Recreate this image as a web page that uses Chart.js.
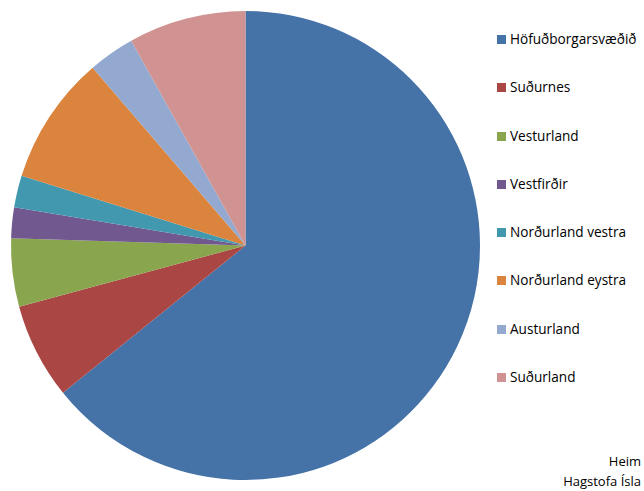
<!DOCTYPE html>
<html>
<head>
<meta charset="utf-8">
<script src="https://cdn.jsdelivr.net/npm/chart.js@4"></script>
<style>
    body { margin: 0; background: #fff; font-family: "Open Sans", sans-serif; }
    #wrap { position: relative; width: 644px; height: 491px; overflow: hidden; }
    #pieBox { position: absolute; left: 0; top: 0; width: 491px; height: 491px; }
    #legend { position: absolute; left: 497px; top: 30px; margin: 0; padding: 0; list-style: none; }
    #legend li { height: 48.3px; font-size: 13.6px; color: #000; white-space: nowrap; line-height: 17px; }
    #legend span { display: inline-block; width: 9px; height: 9px; margin-right: 4px; vertical-align: 0px; }
    #source { position: absolute; right: 3px; top: 451px; font-size: 13px; line-height: 20px; text-align: right; white-space: nowrap; }
</style>
</head>
<body>
<div id="wrap">
    <div id="pieBox"><canvas id="regionChart"></canvas></div>
    <ul id="legend"></ul>
    <div id="source">Heim<br>Hagstofa Ísla</div>
</div>
<script>
const regions = ["Höfuðborgarsvæðið", "Suðurnes", "Vesturland", "Vestfirðir",
    "Norðurland vestra", "Norðurland eystra", "Austurland", "Suðurland"];
const share = [64.2, 6.6, 4.7, 2.1, 2.2, 8.9, 3.2, 8.1];
const colors = ["#4572A7", "#AA4643", "#89A54E", "#71588F", "#4198AF", "#DB843D", "#93A9CF", "#D19392"];

const chart = new Chart(document.getElementById("regionChart"), {
    type: "pie",
    data: {
        labels: regions,
        datasets: [{
            data: share,
            backgroundColor: colors,
            borderWidth: 0
        }]
    },
    options: {
        responsive: true,
        maintainAspectRatio: false,
        animation: false,
        layout: { padding: 11 },
        plugins: {
            legend: { display: false },
            tooltip: { enabled: false }
        }
    }
});

// legend beside the pie, built from the chart's own labels
const list = document.getElementById("legend");
chart.options.plugins.legend.labels.generateLabels(chart).forEach(item => {
    const li = document.createElement("li");
    const sw = document.createElement("span");
    sw.style.background = item.fillStyle;
    li.appendChild(sw);
    li.appendChild(document.createTextNode(item.text));
    list.appendChild(li);
});
</script>
</body>
</html>
